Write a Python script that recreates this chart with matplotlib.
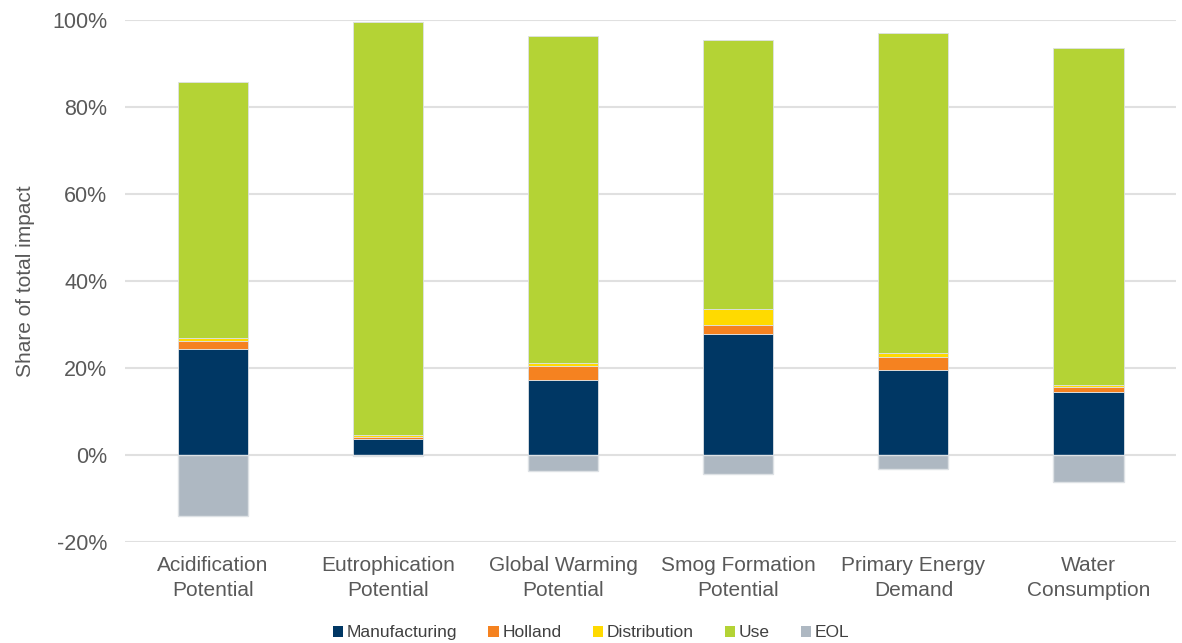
import matplotlib.pyplot as plt
from matplotlib.patches import Patch
from matplotlib.ticker import PercentFormatter

plt.rcParams["font.family"] = ["Liberation Sans", "DejaVu Sans"]
plt.rcParams["axes.unicode_minus"] = False

categories = ["Acidification\nPotential", "Eutrophication\nPotential", "Global Warming\nPotential",
              "Smog Formation\nPotential", "Primary Energy\nDemand", "Water\nConsumption"]
manufacturing = [24.4, 3.7, 17.2, 27.9, 19.5, 14.5]
holland = [1.8, 0.5, 3.3, 2.1, 3.0, 1.1]
distribution = [0.8, 0.4, 0.7, 3.5, 0.9, 0.5]
use = [58.7, 94.9, 75.1, 61.8, 73.6, 77.5]
eol = [-14.0, -0.2, -3.7, -4.4, -3.1, -6.3]

series = [("Manufacturing", manufacturing, "#003764"),
          ("Holland", holland, "#F58220"),
          ("Distribution", distribution, "#FFDA00"),
          ("Use", use, "#B4D335"),
          ("EOL", eol, "#AEB8C2")]

fig = plt.figure(figsize=(11.82, 6.43), dpi=100)
ax = fig.add_axes([0.106, 0.157, 0.889, 0.812])

x = range(len(categories))
bottom = [0.0] * len(categories)
handles = []
for name, vals, col in series:
    if name == "EOL":
        ax.bar(x, vals, width=0.4, color=col, edgecolor="#dde1e5", lw=1, zorder=3)
    else:
        ax.bar(x, vals, width=0.4, bottom=bottom, color=col, edgecolor="#dde1e5", lw=0.6, zorder=3)
        bottom = [b + v for b, v in zip(bottom, vals)]
    handles.append(Patch(facecolor=col, label=name))

ax.set_xlim(-0.5, len(categories) - 0.5)
ax.set_ylim(-20, 100)
ax.set_yticks(range(-20, 101, 20))
ax.yaxis.set_major_formatter(PercentFormatter(decimals=0))
ax.grid(axis="y", color="#e0e0e0", lw=1.5, zorder=0)
for s in ax.spines.values():
    s.set_visible(False)
ax.tick_params(axis="both", length=0, labelcolor="#595959")
ax.tick_params(axis="y", labelsize=15.5, pad=13)
ax.set_xticks(list(x))
ax.set_xticklabels(categories, linespacing=1.4, fontsize=15)
ax.tick_params(axis="x", pad=10)
ax.set_ylabel("Share of total impact", fontsize=15, color="#595959", labelpad=12)

fig.legend(handles=handles, loc="lower center", bbox_to_anchor=(0.5, -0.02), ncol=5,
           frameon=False, fontsize=12.5, handlelength=0.6, handleheight=0.6,
           handletextpad=0.2, columnspacing=1.8, labelcolor="#404040")

fig.savefig("out.png", dpi=100)
